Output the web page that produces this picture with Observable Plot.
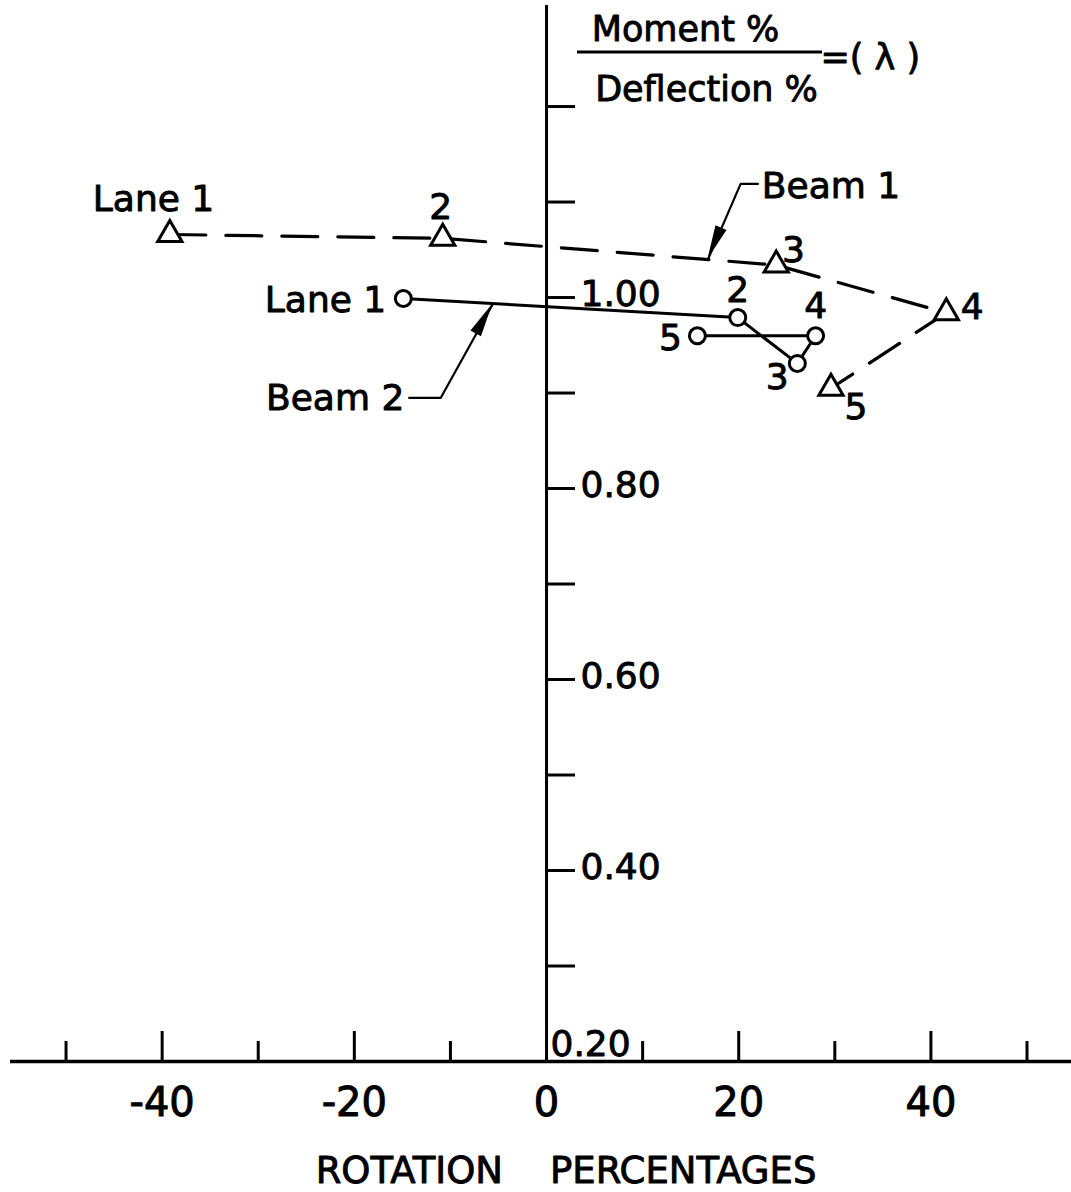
<!DOCTYPE html>
<html><head><meta charset="utf-8">
<script src="https://cdn.jsdelivr.net/npm/d3@7"></script>
<script src="https://cdn.jsdelivr.net/npm/@observablehq/plot@0.6"></script>
<style>html,body{margin:0;padding:0;background:#fff;overflow:hidden}</style>
</head><body><div id="chart"></div>
<script>
// ---- data ----
const lanes = ["Lane 1", "2", "3", "4", "5"];
const beam1Rotation = [-39.2, -10.8, 23.9, 41.6, 29.6];
const beam1Lambda   = [1.066, 1.062, 1.034, 0.984, 0.905];
const beam2Rotation = [-14.9, 19.9, 26.1, 28.0, 15.7];
const beam2Lambda   = [0.999, 0.979, 0.931, 0.960, 0.960];

// lane label anchor points (data units)
const beam1LabelX = [-40.9, -11.0, 25.7, 44.3, 32.2];
const beam1LabelY = [1.103, 1.094, 1.049, 0.990, 0.885];
const beam2LabelX = [-23.0, 19.9, 24.0, 28.0, 12.9];
const beam2LabelY = [0.997, 1.007, 0.916, 0.991, 0.957];

// beam annotations (data units)
const beam1Name = "Beam 1";
const beam1NameX = 22.4, beam1NameY = 1.116;
const beam2Name = "Beam 2";
const beam2NameX = -14.8, beam2NameY = 0.894;
const beam1LeaderX = [22.0, 20.2, 16.8];
const beam1LeaderY = [1.119, 1.119, 1.040];
const beam2LeaderX = [-14.3, -11.0, -5.6];
const beam2LeaderY = [0.895, 0.895, 0.993];

// axes
const xDomain = [-55.78, 54.63];
const yDomain = [0.2, 1.3058];
const xMajorTicks = [-40, -20, 20, 40];
const xMinorTicks = [-50, -30, -10, 10, 30, 50];
const xTickLabels = [-40, -20, 0, 20, 40];
const yTicks = [0.3, 0.4, 0.5, 0.6, 0.7, 0.8, 0.9, 1.0, 1.1, 1.2];
const yLabelValues = [0.4, 0.6, 0.8, 1.0];
const yLabelText = ["0.40", "0.60", "0.80", "1.00"];
const yOriginLabel = "0.20";
const xTitle = "ROTATION\u00a0\u00a0\u00a0\u00a0PERCENTAGES";
const yTitleNum = "Moment %";
const yTitleDen = "Deflection %";
const yTitleSym = "=( λ )";

// ---- helpers ----
const pts = (xs, ys) => xs.map((x, i) => ({x, y: ys[i]}));
const leaders = [pts(beam1LeaderX, beam1LeaderY), pts(beam2LeaderX, beam2LeaderY)];
const bold = {fill: "black", stroke: "black", strokeWidth: 0.9};

function arrowheads(index, scales) {
  const g = d3.create("svg:g").attr("fill", "black");
  for (const L of leaders) {
    const n = L.length;
    const x1 = scales.x(L[n-2].x), y1 = scales.y(L[n-2].y);
    const x2 = scales.x(L[n-1].x), y2 = scales.y(L[n-1].y);
    const a = Math.atan2(y2 - y1, x2 - x1);
    const len = 34, hw = 6;
    const bx = x2 - len * Math.cos(a), by = y2 - len * Math.sin(a);
    const px = -Math.sin(a) * hw, py = Math.cos(a) * hw;
    g.append("path").attr("d", `M${x2},${y2}L${bx+px},${by+py}L${bx-px},${by-py}Z`);
  }
  return g.node();
}

function fractionBar(index, scales, values, dims) {
  const g = d3.create("svg:g");
  g.append("line")
    .attr("x1", dims.marginLeft + 567).attr("x2", dims.marginLeft + 812)
    .attr("y1", dims.marginTop + 47).attr("y2", dims.marginTop + 47)
    .attr("stroke", "black").attr("stroke-width", 3);
  return g.node();
}

const chart = Plot.plot({
  width: 1071,
  height: 1192,
  marginLeft: 10,
  marginRight: 0,
  marginTop: 5,
  marginBottom: 131,
  x: {domain: xDomain, label: null},
  y: {domain: yDomain, label: null},
  style: {fontFamily: "'DejaVu Sans', sans-serif", fontSize: "36px", background: "white", color: "black"},
  marks: [
    // axis lines
    Plot.ruleY([0.2], {strokeWidth: 3.5}),
    Plot.ruleX([0], {strokeWidth: 3}),
    // x ticks (upward)
    Plot.axisX(xMajorTicks, {anchor: "bottom", tickSize: -30, fill: "none", strokeWidth: 3, label: null}),
    Plot.axisX(xMinorTicks, {anchor: "bottom", tickSize: -20, fill: "none", strokeWidth: 3, label: null}),
    Plot.axisX(xTickLabels, {anchor: "bottom", tickSize: 0, tickPadding: 26, fontSize: 40, tickFormat: d => String(d), label: null, textStroke: "black", textStrokeWidth: 1}),
    // y ticks (to the right of x = 0)
    Plot.axisY(yTicks, {anchor: "right", x: 0, tickSize: 28, fill: "none", strokeWidth: 3, label: null}),
    Plot.axisY(yLabelValues, {anchor: "right", x: 0, tickSize: 0, tickPadding: 34, textAnchor: "start", dy: -3, fontSize: 36,
      tickFormat: d => yLabelText[yLabelValues.indexOf(d)], label: null, textStroke: "black", textStrokeWidth: 0.9}),
    Plot.text([yOriginLabel], {x: 0, y: 0.2, text: d => d, dx: 4, dy: -6, textAnchor: "start", lineAnchor: "bottom", fontSize: 36, ...bold}),
    // series lines
    Plot.line(lanes, {x: beam1Rotation, y: beam1Lambda, strokeWidth: 3.2, strokeDasharray: "36,20"}),
    Plot.line(lanes, {x: beam2Rotation, y: beam2Lambda, strokeWidth: 3}),
    // markers
    Plot.dot(lanes, {x: beam1Rotation, y: beam1Lambda, symbol: "triangle", r: 9, fill: "white", stroke: "black", strokeWidth: 3}),
    Plot.dot(lanes, {x: beam2Rotation, y: beam2Lambda, symbol: "circle", r: 8, fill: "white", stroke: "black", strokeWidth: 3}),
    // lane labels
    Plot.text(lanes, {x: beam1LabelX, y: beam1LabelY, text: d => d, fontSize: 36, lineAnchor: "middle", ...bold}),
    Plot.text(lanes, {x: beam2LabelX, y: beam2LabelY, text: d => d, fontSize: 36, lineAnchor: "middle", ...bold}),
    // beam annotations
    Plot.line(leaders[0], {x: "x", y: "y", strokeWidth: 2.2}),
    Plot.line(leaders[1], {x: "x", y: "y", strokeWidth: 2.2}),
    arrowheads,
    Plot.text([beam1Name], {x: beam1NameX, y: beam1NameY, text: d => d, textAnchor: "start", fontSize: 36, lineAnchor: "middle", ...bold}),
    Plot.text([beam2Name], {x: beam2NameX, y: beam2NameY, text: d => d, textAnchor: "end", fontSize: 36, lineAnchor: "middle", ...bold}),
    // y title (fraction)
    Plot.text([yTitleNum], {frameAnchor: "top-left", text: d => d, dx: 675, dy: 35, lineAnchor: "bottom", textAnchor: "middle", fontSize: 35, ...bold}),
    Plot.text([yTitleDen], {frameAnchor: "top-left", text: d => d, dx: 696, dy: 95, lineAnchor: "bottom", textAnchor: "middle", fontSize: 35, ...bold}),
    fractionBar,
    Plot.text([yTitleSym], {frameAnchor: "top-left", text: d => d, dx: 810, dy: 52, lineAnchor: "middle", textAnchor: "start", fontSize: 35, ...bold}),
    // x title
    Plot.text([xTitle], {frameAnchor: "bottom", text: d => d, dx: 25, dy: 121, lineAnchor: "bottom", textAnchor: "middle", fontSize: 37, ...bold})
  ]
});
document.getElementById("chart").append(chart);
</script>
</body></html>
